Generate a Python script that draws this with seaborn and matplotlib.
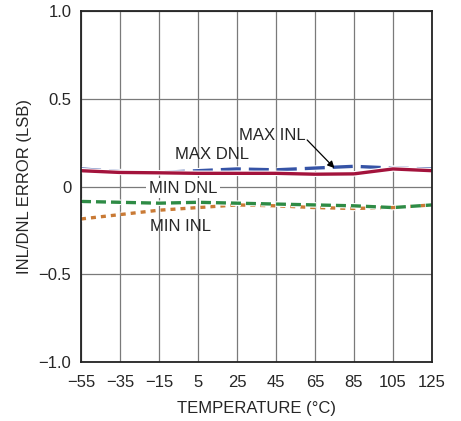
import matplotlib
matplotlib.use("Agg")
import matplotlib.pyplot as plt
import matplotlib.patheffects as pe
import seaborn as sns
import pandas as pd

temps = [-55, -35, -15, 5, 25, 45, 65, 85, 105, 125]
max_inl = [0.10, 0.085, 0.08, 0.09, 0.10, 0.095, 0.105, 0.115, 0.105, 0.10]
max_dnl = [0.09, 0.08, 0.078, 0.075, 0.075, 0.075, 0.07, 0.072, 0.10, 0.09]
min_dnl = [-0.085, -0.09, -0.095, -0.09, -0.095, -0.10, -0.105, -0.11, -0.12, -0.105]
min_inl = [-0.185, -0.16, -0.135, -0.12, -0.105, -0.11, -0.12, -0.125, -0.12, -0.105]

x_ticks = [-55, -35, -15, 5, 25, 45, 65, 85, 105, 125]
y_ticks = [-1.0, -0.5, 0, 0.5, 1.0]
y_labels = ["\u22121.0", "\u22120.5", "0", "0.5", "1.0"]
x_labels = [str(t).replace("-", "\u2212") for t in x_ticks]

sns.set_style("white")
plt.rcParams["font.family"] = ["Liberation Sans", "DejaVu Sans"]

fig = plt.figure(figsize=(4.61, 4.21), dpi=100)
ax = fig.add_axes([0.1757, 0.140, 0.7613, 0.834])

halo = [pe.Stroke(linewidth=4.0, foreground="white"), pe.Normal()]
styles = [
    (min_inl, "#c97a35", (0, (1.5, 1.5)), 2.4),
    (min_dnl, "#2e8b45", (0, (3, 1.5)), 2.4),
    (max_inl, "#3553a6", (0, (6, 2.4)), 2.4),
    (max_dnl, "#a3133c", "-", 2.4),
]
for vals, col, ls, lw in styles:
    df = pd.DataFrame({"t": temps, "v": vals})
    sns.lineplot(data=df, x="t", y="v", ax=ax, color=col, linewidth=lw,
                 linestyle=ls, path_effects=halo)

ax.set_xlim(-55, 125)
ax.set_ylim(-1.0, 1.0)
ax.set_xticks(x_ticks)
ax.set_xticklabels(x_labels)
ax.set_yticks(y_ticks)
ax.set_yticklabels(y_labels)
ax.tick_params(axis="x", labelsize=12, length=0, pad=9)
ax.tick_params(axis="y", labelsize=12, length=0, pad=7)
ax.grid(True, color="#7a7a7a", linewidth=0.9)
ax.set_axisbelow(True)
for s in ax.spines.values():
    s.set_color("#222222")
    s.set_linewidth(1.3)
ax.set_xlabel("TEMPERATURE (\u00b0C)", fontsize=12, labelpad=8)
ax.set_ylabel("INL/DNL ERROR (LSB)", fontsize=12, labelpad=5)

bg = dict(boxstyle="square,pad=0.15", fc="white", ec="none")
ax.text(43, 0.293, "MAX INL", fontsize=12, ha="center", va="center")
ax.annotate("", xy=(75, 0.105), xytext=(61, 0.265),
            arrowprops=dict(arrowstyle="-|>", color="black", lw=0.9,
                            mutation_scale=10, shrinkA=0, shrinkB=0))
ax.text(12, 0.18, "MAX DNL", fontsize=12, ha="center", va="center")
ax.text(-2.7, -0.01, "MIN DNL", fontsize=12, ha="center", va="center", bbox=bg)
ax.text(-4, -0.23, "MIN INL", fontsize=12, ha="center", va="center")

fig.savefig("out.png", dpi=100)
